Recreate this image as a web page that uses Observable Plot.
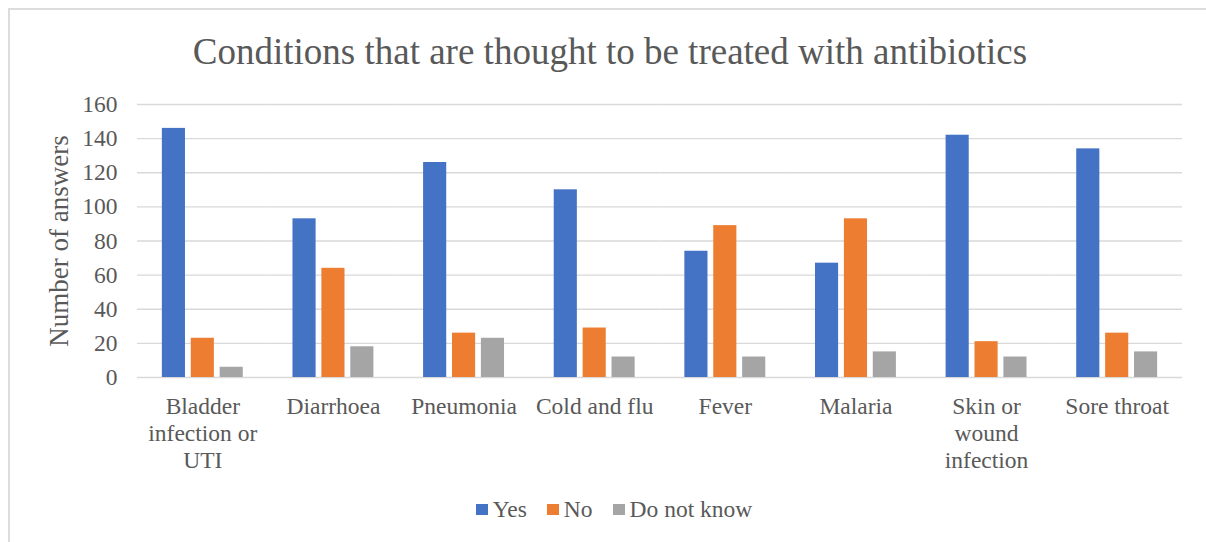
<!DOCTYPE html>
<html>
<head>
<meta charset="utf-8">
<script src="https://cdn.jsdelivr.net/npm/d3@7"></script>
<script src="https://cdn.jsdelivr.net/npm/@observablehq/plot@0.6"></script>
<style>
  html, body { margin: 0; padding: 0; background: #fff; }
  body { font-family: "Liberation Serif", "Times New Roman", serif; color: #595959; width: 1206px; height: 542px; overflow: hidden; position: relative; }
  #frame { position: absolute; left: 8px; top: 8px; width: 1220px; height: 560px; border-left: 2px solid #dcdcdc; border-top: 2px solid #dcdcdc; box-sizing: border-box; pointer-events: none; }
  #title { padding-top: 30px; padding-left: 14px; height: 44px; line-height: 44px; font-size: 37px; text-align: center; white-space: nowrap; }
  #chart svg { display: block; }
  #legend { display: flex; justify-content: center; align-items: center; padding-left: 22px; padding-top: 2px; height: 30px; line-height: 30px; font-size: 23.5px; }
  .item { display: flex; align-items: center; margin: 0 10px; }
  .sw { width: 12px; height: 11px; margin-right: 5px; }
</style>
</head>
<body>
<div id="frame"></div>
<div id="title">Conditions that are thought to be treated with antibiotics</div>
<div id="chart"></div>
<div id="legend"></div>
<script>
const categories = ["Bladder infection or UTI", "Diarrhoea", "Pneumonia", "Cold and flu", "Fever", "Malaria", "Skin or wound infection", "Sore throat"];
const categoryLabels = ["Bladder\ninfection or\nUTI", "Diarrhoea", "Pneumonia", "Cold and flu", "Fever", "Malaria", "Skin or\nwound\ninfection", "Sore throat"];
const series = ["Yes", "No", "Do not know"];
const yesValues = [146, 93, 126, 110, 74, 67, 142, 134];
const noValues = [23, 64, 26, 29, 89, 93, 21, 26];
const dontKnowValues = [6, 18, 23, 12, 12, 15, 12, 15];
const seriesColors = ["#4472c4", "#ed7d31", "#a5a5a5"];
const yTicks = [0, 20, 40, 60, 80, 100, 120, 140, 160];

const valuesBySeries = [yesValues, noValues, dontKnowValues];
const rows = [];
categories.forEach((c, i) => {
  series.forEach((s, j) => rows.push({category: c, series: s, value: valuesBySeries[j][i]}));
});
const labelOf = new Map(categories.map((c, i) => [c, categoryLabels[i]]));

const chart = Plot.plot({
  width: 1206,
  height: 418,
  marginTop: 30,
  marginBottom: 115,
  marginLeft: 137,
  marginRight: 24,
  style: {fontFamily: '"Liberation Serif", "Times New Roman", serif', color: "#595959", background: "transparent", overflow: "visible"},
  fx: {domain: categories, padding: 0, round: false, label: null},
  x: {domain: series, axis: null, paddingInner: 0.2, paddingOuter: 0.86, round: false},
  y: {domain: [0, 160], label: null},
  color: {domain: series, range: seriesColors},
  marks: [
    Plot.gridY(yTicks, {stroke: "#d9d9d9", strokeOpacity: 1, strokeWidth: 1.3}),
    Plot.barY(rows, {fx: "category", x: "series", y: "value", fill: "series"}),
    Plot.axisY(yTicks, {tickSize: 0, tickPadding: 20, fontSize: 23.5, fontFamily: '"Liberation Serif", serif', label: null}),
    Plot.axisY({ticks: [], tickSize: 0, fontSize: 27, fontFamily: '"Liberation Serif", serif', label: "Number of answers", labelAnchor: "center", labelArrow: "none", labelOffset: 89}),
    Plot.axisFx({anchor: "bottom", tickSize: 0, tickPadding: 17, fontSize: 23.5, fontFamily: '"Liberation Serif", serif', lineHeight: 1.15, tickFormat: d => labelOf.get(d), label: null})
  ]
});
document.getElementById("chart").appendChild(chart);

const legend = document.getElementById("legend");
series.forEach((s, j) => {
  const item = document.createElement("div");
  item.className = "item";
  const sw = document.createElement("div");
  sw.className = "sw";
  sw.style.background = seriesColors[j];
  const t = document.createElement("span");
  t.textContent = s;
  item.appendChild(sw);
  item.appendChild(t);
  legend.appendChild(item);
});
</script>
</body>
</html>
